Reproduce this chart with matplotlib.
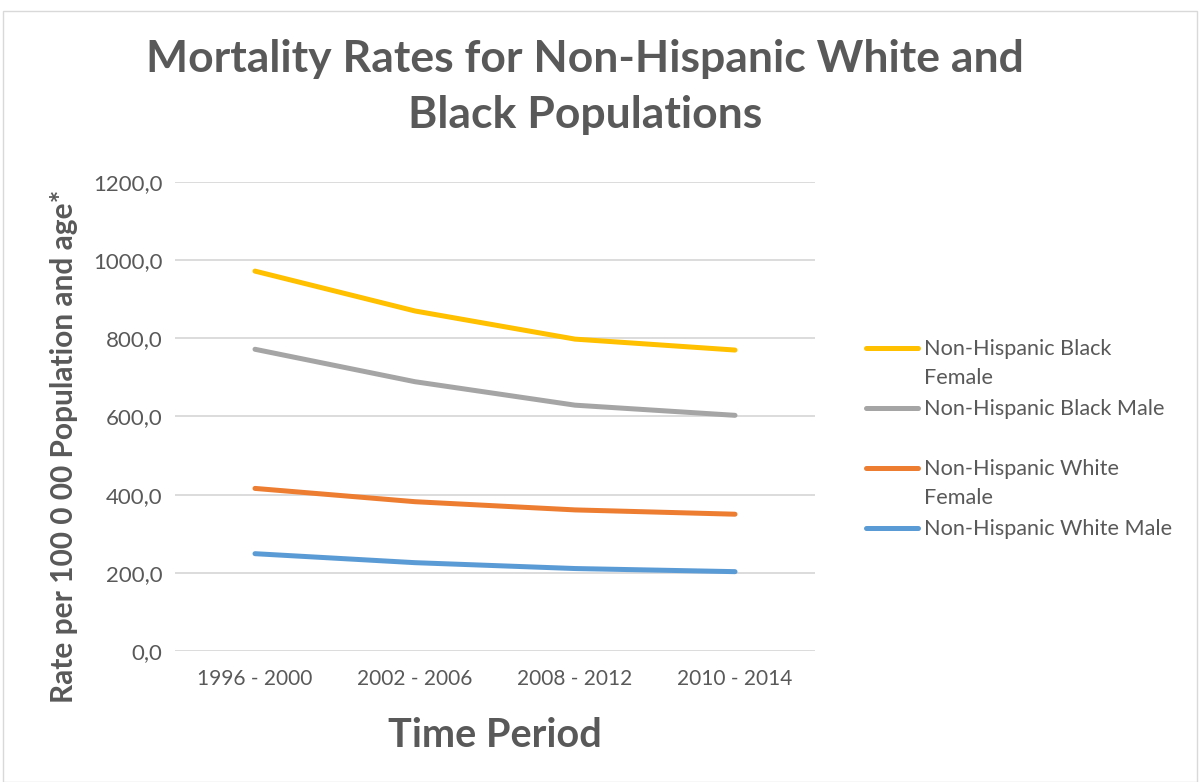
import matplotlib
matplotlib.use("Agg")
import matplotlib.pyplot as plt
from matplotlib.lines import Line2D
from matplotlib.patches import Rectangle
from matplotlib.ticker import FuncFormatter

plt.rcParams["font.family"] = ["Lato", "DejaVu Sans"]
TXT = "#595959"

periods = ["1996 - 2000", "2002 - 2006", "2008 - 2012", "2010 - 2014"]
black_female = [972, 870, 798, 770]
black_male = [772, 689, 629, 603]
white_female = [416, 382, 361, 350]
white_male = [249, 226, 211, 203]

series = [
    ("Non-Hispanic Black\nFemale", black_female, "#FFC000"),
    ("Non-Hispanic Black Male", black_male, "#A5A5A5"),
    ("Non-Hispanic White\nFemale", white_female, "#ED7D31"),
    ("Non-Hispanic White Male", white_male, "#5B9BD5"),
]

W, H = 1200, 782
fig = plt.figure(figsize=(W / 100, H / 100), dpi=100)
fig.add_artist(Rectangle((3 / W, 0), 1194 / W, 1 - 11 / H, transform=fig.transFigure,
                         fill=False, edgecolor="#D9D9D9", lw=1))

ax = fig.add_axes([175 / W, 1 - 651 / H, 640 / W, 469 / H])
x = range(len(periods))
for label, vals, color in series:
    ax.plot(x, vals, color=color, lw=3.6, solid_capstyle="round", zorder=3)

ax.set_xlim(-0.5, len(periods) - 0.5)
ax.set_ylim(0, 1200)
ax.set_yticks(range(0, 1201, 200))
ax.yaxis.set_major_formatter(FuncFormatter(lambda v, p: f"{v:.1f}".replace(".", ",")))
ax.set_xticks(list(x))
ax.set_xticklabels(periods)
ax.grid(axis="y", color="#D9D9D9", lw=1.3)
ax.set_axisbelow(True)
for s in ax.spines.values():
    s.set_visible(False)
ax.tick_params(length=0, colors=TXT)
ax.tick_params(axis="y", labelsize=16, pad=9)
ax.tick_params(axis="x", labelsize=15, pad=13)

ax.set_xlabel("Time Period", fontsize=28.5, fontweight="bold", color=TXT, labelpad=20)
ax.set_ylabel("Rate per 100 0 00 Population and age*", fontsize=21.5, fontweight="bold",
              color=TXT)
ax.yaxis.set_label_coords((78 - 175) / 640, (651 - 446) / 469)

fig.text(585 / W, 1 - 87 / H, "Mortality Rates for Non-Hispanic White and\nBlack Populations",
         ha="center", va="center", fontsize=32, fontweight="bold", color=TXT, linespacing=1.5)

# legend, drawn by hand to mimic the wrapped Excel entries
for k, (label, vals, color) in enumerate(series):
    ypx = 348 + 60 * k
    fig.add_artist(Line2D([866 / W, 918 / W], [1 - ypx / H] * 2, transform=fig.transFigure,
                          color=color, lw=3.6, solid_capstyle="round"))
    for i, part in enumerate(label.split("\n")):
        fig.text(924 / W, 1 - (ypx + 7 + 29 * i) / H, part, ha="left", va="baseline",
                 fontsize=15.6, color=TXT)

fig.savefig("out.png", dpi=100)
